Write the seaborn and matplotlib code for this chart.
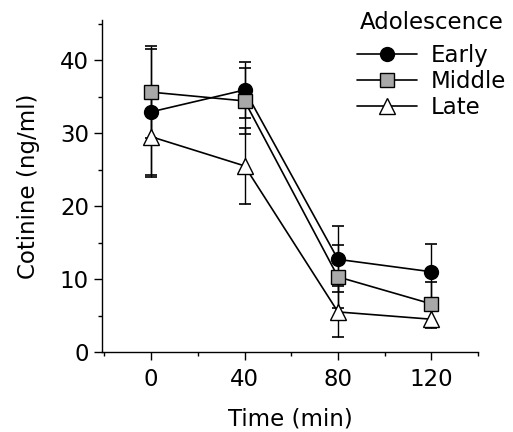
import matplotlib
matplotlib.use("Agg")
import matplotlib.pyplot as plt
from matplotlib.lines import Line2D
from matplotlib.ticker import MultipleLocator
import seaborn as sns
import pandas as pd

time = [0, 40, 80, 120]
early = [32.9, 35.9, 12.7, 11.0]
early_err = [8.6, 3.8, 4.5, 3.8]
middle = [35.6, 34.4, 10.3, 6.6]
middle_err = [6.3, 4.5, 4.3, 3.0]
late = [29.5, 25.5, 5.5, 4.5]
late_err = [5.5, 5.2, 3.5, 1.2]
groups = ["Early", "Middle", "Late"]

sns.set_style("ticks")
plt.rcParams['font.family'] = ['DejaVu Sans']
plt.rcParams['text.color'] = 'black'

FS = 16.5

fig = plt.figure(figsize=(5.13, 4.32), dpi=100)
ax = fig.add_axes([0.199, 0.185, 0.733, 0.769])

styles = {
    "Early": dict(marker="o", markerfacecolor="black", markersize=10),
    "Middle": dict(marker="s", markerfacecolor="#a8a8a8", markersize=9.5),
    "Late": dict(marker="^", markerfacecolor="white", markersize=11),
}
vals = {"Early": (early, early_err), "Middle": (middle, middle_err), "Late": (late, late_err)}

for g in groups:
    y, e = vals[g]
    df = pd.DataFrame({"Time": time, "Cotinine": y})
    ax.errorbar(time, y, yerr=e, fmt="none", ecolor="black", elinewidth=1.0,
                capsize=4, capthick=1.2, zorder=1)
    sns.lineplot(data=df, x="Time", y="Cotinine", ax=ax, color="black", linewidth=1.2,
                 markeredgecolor="black", markeredgewidth=1.0, zorder=3, **styles[g])

ax.set_xlim(-21, 140)
ax.set_ylim(0, 45.5)
ax.set_xticks(time)
ax.set_yticks([0, 10, 20, 30, 40])
ax.xaxis.set_minor_locator(MultipleLocator(20))
ax.yaxis.set_minor_locator(MultipleLocator(5))
ax.tick_params(which="major", length=5.5, width=1, labelsize=FS, color="black",
               labelcolor="black", pad=4)
ax.tick_params(axis="x", which="major", pad=6)
ax.tick_params(which="minor", length=3, width=1, color="black")
for s in ["top", "right"]:
    ax.spines[s].set_visible(False)
for s in ["left", "bottom"]:
    ax.spines[s].set_color("black")
    ax.spines[s].set_linewidth(1)
ax.set_xlabel("Time (min)", fontsize=FS, labelpad=12, color="black")
ax.set_ylabel("Cotinine (ng/ml)", fontsize=FS, labelpad=14, color="black")

handles = [Line2D([0], [0], color="black", linewidth=1.2, markeredgecolor="black",
                  markeredgewidth=1.0, **styles[g]) for g in groups]
leg = fig.legend(handles, groups, title="Adolescence", loc="upper right",
                 bbox_to_anchor=(1.017, 1.012), frameon=False, fontsize=FS,
                 title_fontsize=FS, handlelength=2.6, handletextpad=0.6,
                 labelspacing=0.15, borderpad=0.2)
leg._legend_box.sep = 7
for t in leg.get_texts():
    t.set_color("black")
leg.get_title().set_color("black")

fig.savefig("out.png", dpi=100)
